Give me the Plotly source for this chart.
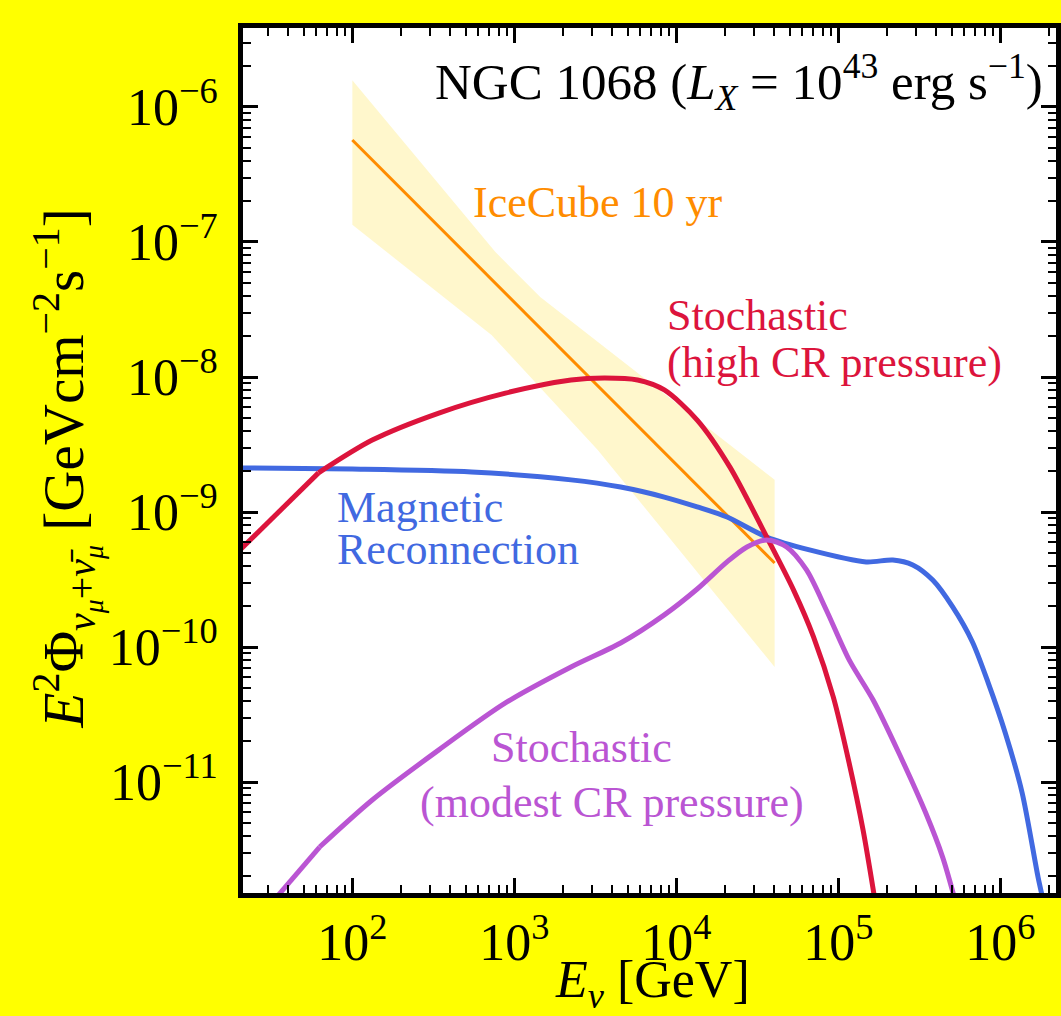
import plotly.graph_objects as go

# ---------------- data ----------------
# IceCube 10 yr best-fit power law and its uncertainty band
ic_E = [100, 40460]
ic_flux = [5.70e-7, 4.19e-10]
band_up_E = [100, 764, 1445, 40460]
band_up_flux = [1.58e-6, 8.43e-8, 3.92e-8, 1.73e-9]
band_lo_E = [100, 723, 3273, 40460]
band_lo_flux = [1.34e-7, 2.05e-8, 2.88e-9, 7.11e-11]

# Magnetic reconnection
mr_E = [20.3, 100, 545, 2239, 4529, 8433, 13460, 20560, 36140, 66370, 148600,
        217300, 288400, 382800, 508200, 673000, 843300, 1074000, 1365000, 1710000, 1837000]
mr_flux = [2.12e-9, 2.08e-9, 1.98e-9, 1.73e-9, 1.53e-9, 1.29e-9, 1.09e-9, 9.18e-10,
           6.53e-10, 5.24e-10, 4.27e-10, 4.41e-10, 4.05e-10, 3.13e-10, 1.98e-10,
           1.09e-10, 5.41e-11, 2.31e-11, 8.30e-12, 1.98e-12, 1.34e-12]

# Stochastic (high CR pressure): straight low-energy part, then the curved part
hi_low_E = [20.3, 61.8]
hi_low_flux = [5.24e-10, 1.95e-9]
hi_E = [61.8, 132.7, 342, 881, 2239, 3614, 5768, 8433, 13460, 21430, 36140,
        52970, 70310, 93110, 116700, 142200, 166300]
hi_flux = [1.95e-9, 3.41e-9, 5.41e-9, 7.60e-9, 9.51e-9, 9.84e-9, 9.51e-9, 8.02e-9,
           4.80e-9, 2.15e-9, 6.53e-10, 2.64e-10, 1.19e-10, 4.27e-11, 1.38e-11,
           4.41e-12, 1.46e-12]

# Stochastic (modest CR pressure): straight low-energy part, then the curved part
md_low_E = [34.2, 62.8]
md_low_flux = [1.41e-12, 3.30e-12]
md_E = [62.8, 132.7, 342, 881, 2239, 4529, 8433, 13460, 20560, 27290, 36140, 47970,
        63680, 84330, 116700, 164100, 236600, 346700, 440600, 515200]
md_flux = [3.30e-12, 7.36e-12, 1.73e-11, 3.85e-11, 7.11e-11, 1.07e-10, 1.73e-10,
           2.69e-10, 4.27e-10, 5.51e-10, 6.21e-10, 5.51e-10, 3.72e-10, 1.88e-10,
           8.02e-11, 4.05e-11, 1.64e-11, 5.89e-12, 2.78e-12, 1.46e-12]

x_tick_vals = [1e2, 1e3, 1e4, 1e5, 1e6]
x_tick_text = ["10<sup>2</sup>", "10<sup>3</sup>", "10<sup>4</sup>", "10<sup>5</sup>", "10<sup>6</sup>"]
y_tick_vals = [1e-11, 1e-10, 1e-9, 1e-8, 1e-7, 1e-6]
y_tick_text = ["10<sup>−11</sup>", "10<sup>−10</sup>", "10<sup>−9</sup>",
               "10<sup>−8</sup>", "10<sup>−7</sup>", "10<sup>−6</sup>"]

# ---------------- styling ----------------
FONT = "Liberation Serif"
RED = "#DC143C"
BLUE = "#4169E1"
PURPLE = "#BA55D3"
ORANGE = "#FF8C00"
LW = 5

x_minor = [m * 10 ** k for k in range(1, 7) for m in range(2, 10)]
y_minor = [m * 10 ** k for k in range(-12, -5) for m in range(2, 10)]

fig = go.Figure()

fig.add_trace(go.Scatter(
    x=band_up_E + band_lo_E[::-1], y=band_up_flux + band_lo_flux[::-1],
    fill="toself", fillcolor="rgba(255,215,0,0.2)", line=dict(width=0),
    mode="lines", hoverinfo="skip"))
fig.add_trace(go.Scatter(x=ic_E, y=ic_flux, mode="lines",
                         line=dict(color=ORANGE, width=3)))
fig.add_trace(go.Scatter(x=mr_E, y=mr_flux, mode="lines",
                         line=dict(color=BLUE, width=LW, shape="spline", smoothing=0.8)))
fig.add_trace(go.Scatter(x=hi_low_E, y=hi_low_flux, mode="lines",
                         line=dict(color=RED, width=LW)))
fig.add_trace(go.Scatter(x=hi_E, y=hi_flux, mode="lines",
                         line=dict(color=RED, width=LW, shape="spline", smoothing=0.8)))
fig.add_trace(go.Scatter(x=md_low_E, y=md_low_flux, mode="lines",
                         line=dict(color=PURPLE, width=LW)))
fig.add_trace(go.Scatter(x=md_E, y=md_flux, mode="lines",
                         line=dict(color=PURPLE, width=LW, shape="spline", smoothing=0.8)))

axis_common = dict(
    type="log", showgrid=False, zeroline=False,
    showline=True, linecolor="black", linewidth=5, mirror="allticks",
    ticks="inside", ticklen=15, tickwidth=3, tickcolor="black",
    tickfont=dict(family=FONT, size=52, color="black"),
)

fig.update_xaxes(range=[1.325, 6.344], tickvals=x_tick_vals, ticktext=x_tick_text,
                 minor=dict(tickvals=x_minor, ticks="inside", ticklen=8, tickwidth=2,
                            tickcolor="black"),
                 **axis_common)
fig.update_yaxes(range=[-11.822, -5.415], tickvals=y_tick_vals, ticktext=y_tick_text,
                 ticklabelstandoff=10,
                 minor=dict(tickvals=y_minor, ticks="inside", ticklen=8, tickwidth=2,
                            tickcolor="black"),
                 **axis_common)

ann = []
def txt(x, y, s, color, size=44, xanchor="left", **kw):
    ann.append(dict(x=x, y=y, xref="x", yref="y", text=s, showarrow=False,
                    xanchor=xanchor, yanchor="middle",
                    font=dict(family=FONT, size=size, color=color), **kw))

txt(6.273, -5.815,
    "NGC 1068 (<i>L</i><sub><i>X</i></sub> = 10<sup>43</sup> erg s<sup>−1</sup>)",
    "black", size=51, xanchor="right")
txt(2.733, -6.704, "IceCube 10 yr", ORANGE)
txt(3.932, -7.541, "Stochastic", RED)
txt(3.932, -7.889, "(high CR pressure)", RED)
txt(1.894, -8.970, "Magnetic", BLUE)
txt(1.894, -9.281, "Reconnection", BLUE)
txt(2.845, -10.741, "Stochastic", PURPLE)
txt(2.404, -11.148, "(modest CR pressure)", PURPLE)

# axis titles
ann.append(dict(x=0.5037, y=-0.105, xref="paper", yref="paper", showarrow=False,
                xanchor="center", yanchor="middle",
                text="<i>E</i><sub><i>ν</i></sub> [GeV]",
                font=dict(family=FONT, size=52, color="black")))
ann.append(dict(x=-0.2176, y=0.491, xref="paper", yref="paper", showarrow=False,
                xanchor="center", yanchor="middle", textangle=-90,
                text="<i>E</i><sup>2</sup>Φ<sub><i>ν</i><sub><i>μ</i></sub>+<i>ν̄</i><sub><i>μ</i></sub></sub> [GeVcm<sup>−2</sup>s<sup>−1</sup>]",
                font=dict(family=FONT, size=57, color="black")))

fig.update_layout(
    width=1061, height=1016,
    margin=dict(l=243, r=0, t=28, b=123, pad=0),
    paper_bgcolor="#FFFF00", plot_bgcolor="white",
    showlegend=False, annotations=ann,
)

fig.write_html("out.html")
